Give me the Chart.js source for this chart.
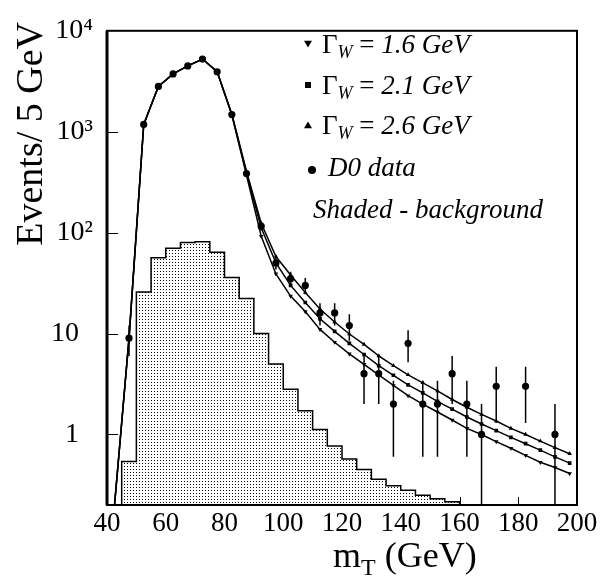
<!DOCTYPE html>
<html>
<head>
<meta charset="utf-8">
<script src="https://cdn.jsdelivr.net/npm/chart.js@4.4.1/dist/chart.umd.min.js"></script>
<style>
  html, body { margin: 0; padding: 0; background: #fff; }
</style>
</head>
<body>
<canvas id="chart" width="602" height="581"></canvas>
<script>
// W boson transverse mass — log-scale spectrum with width hypotheses
// Chart.js 4.x

// --- Data ---
const binCenters = [42.5, 47.5, 52.5, 57.5, 62.5, 67.5, 72.5, 77.5, 82.5, 87.5,
    92.5, 97.5, 102.5, 107.5, 112.5, 117.5, 122.5, 127.5, 132.5, 137.5,
    142.5, 147.5, 152.5, 157.5, 162.5, 167.5, 172.5, 177.5, 182.5, 187.5,
    192.5, 197.5];

// model curves for three W widths
const width16 = [0.19, 9, 1180, 2810, 3740, 4490, 5250, 3930, 1460, 370,
    92, 39, 23.5, 16.5, 11.0, 8.2, 6.3, 4.96, 3.9, 3.06,
    2.42, 2.0, 1.67, 1.39, 1.15, 1.0, 0.85, 0.73, 0.62, 0.53,
    0.47, 0.41];
const width21 = [0.19, 9, 1180, 2810, 3740, 4490, 5250, 3930, 1480, 390,
    112, 50, 30, 20.3, 14.0, 10.5, 8.0, 6.2, 4.8, 3.86,
    3.1, 2.58, 2.13, 1.78, 1.49, 1.27, 1.09, 0.935, 0.81, 0.70,
    0.60, 0.52];
const width26 = [0.19, 9, 1180, 2810, 3740, 4490, 5250, 3930, 1500, 405,
    124, 58, 38, 25.5, 17.5, 13.0, 9.9, 7.8, 6.0, 4.8,
    3.9, 3.25, 2.7, 2.22, 1.86, 1.58, 1.36, 1.15, 1.0, 0.86,
    0.74, 0.645];
const widthLabels = ['1.6', '2.1', '2.6'];

// D0 data points with statistical errors
const dataX = [47.5, 52.5, 57.5, 62.5, 67.5, 72.5, 77.5, 82.5, 87.5, 92.5,
    97.5, 102.5, 107.5, 112.5, 117.5, 122.5, 127.5, 132.5, 137.5, 142.5,
    147.5, 152.5, 157.5, 162.5, 167.5, 172.5, 182.5, 192.5];
const dataY = [9, 1180, 2810, 3740, 4490, 5250, 3930, 1480, 385, 116,
    50, 35, 30, 16, 16, 12, 4, 4, 2, 8,
    2, 2, 4, 2, 1, 3, 3, 1];
const dataErr = [3, 34, 53, 61, 67, 72, 63, 38, 20, 11,
    7, 6, 5.5, 4, 4, 3.5, 2, 2, 1.4, 2.8,
    1.4, 1.4, 2, 1.4, 1, 1.7, 1.7, 1];

// background histogram (lower bin edges, 5 GeV bins)
const bkgLowEdges = [45, 50, 55, 60, 65, 70, 75, 80, 85, 90, 95, 100,
    105, 110, 115, 120, 125, 130, 135, 140, 145, 150, 155];
const bkgValues = [0.54, 25.8, 56.4, 70, 80, 81, 64, 36, 22.3, 10.0, 5.0, 2.8,
    1.72, 1.12, 0.77, 0.57, 0.45, 0.36, 0.31, 0.28, 0.25, 0.23, 0.215];

// axis ticks
const yTickValues = [1, 10, 100, 1000, 10000];
const yTickLabels = ['1\u2002', '10\u2002', '10\u00b2', '10\u00b3', '10\u2074'];
const xTickValues = [40, 60, 80, 100, 120, 140, 160, 180, 200];

const BIN = 5;
const Y_MIN = 0.2;
const Y_MAX = 10000;
const SERIF = '"Liberation Serif", "Times New Roman", serif';

// --- Build point lists ---
const xy = (xs, ys) => xs.map((x, i) => ({ x: x, y: ys[i] }));

// stepped outline: one point per lower edge, closed down to the axis at both ends
const bkgPoints = [{ x: bkgLowEdges[0], y: Y_MIN }];
bkgLowEdges.forEach((lo, i) => bkgPoints.push({ x: lo, y: bkgValues[i] }));
const lastEdge = bkgLowEdges[bkgLowEdges.length - 1] + BIN;
bkgPoints.push({ x: lastEdge, y: bkgValues[bkgValues.length - 1] });
bkgPoints.push({ x: lastEdge, y: Y_MIN });

function isDecade(v) {
    const l = Math.log10(v);
    return Math.abs(l - Math.round(l)) < 1e-6;
}

// --- Dot shading for the background ---
const canvas = document.getElementById('chart');
const ctx = canvas.getContext('2d');
function dotPattern() {
    const c = document.createElement('canvas');
    c.width = 3; c.height = 3;
    const g = c.getContext('2d');
    g.fillStyle = '#fff';
    g.fillRect(0, 0, 3, 3);
    g.fillStyle = '#000';
    g.fillRect(1, 1, 1, 1);
    return ctx.createPattern(c, 'repeat');
}

// --- Plugin: inner ticks and frame ---
const framePlugin = {
    id: 'frame',
    beforeDatasetsDraw(chart) {
        const c = chart.ctx, a = chart.chartArea;
        const xs = chart.scales.x, ys = chart.scales.y;
        c.save();
        c.strokeStyle = '#000';
        c.lineWidth = 1;
        ys.ticks.forEach(t => {
            if (t.value <= Y_MIN || t.value >= Y_MAX) return;
            const py = Math.round(ys.getPixelForValue(t.value)) + 0.5;
            c.beginPath();
            c.moveTo(a.left, py);
            c.lineTo(a.left + (isDecade(t.value) ? 11 : 7), py);
            c.stroke();
        });
        xs.ticks.forEach(t => {
            if (t.value <= xs.min || t.value >= xs.max) return;
            const px = Math.round(xs.getPixelForValue(t.value)) + 0.5;
            c.beginPath();
            c.moveTo(px, a.bottom);
            c.lineTo(px, a.bottom - 8);
            c.stroke();
        });
        c.restore();
    },
    afterDatasetsDraw(chart) {
        const c = chart.ctx, a = chart.chartArea;
        c.save();
        c.strokeStyle = '#000';
        c.lineWidth = 2;
        c.strokeRect(a.left, a.top, a.right - a.left, a.bottom - a.top);
        c.lineWidth = 3;
        c.beginPath();
        c.moveTo(a.left, a.top);
        c.lineTo(a.left, a.bottom);
        c.stroke();
        c.restore();
    }
};

// --- Plugin: error bars on the data points ---
const errorBarPlugin = {
    id: 'errorBars',
    afterDatasetsDraw(chart) {
        const c = chart.ctx, a = chart.chartArea;
        const xs = chart.scales.x, ys = chart.scales.y;
        c.save();
        c.beginPath();
        c.rect(a.left, a.top, a.right - a.left, a.bottom - a.top);
        c.clip();
        c.strokeStyle = '#000';
        c.lineWidth = 1.5;
        dataX.forEach((x, i) => {
            const lo = dataY[i] - dataErr[i];
            const hi = dataY[i] + dataErr[i];
            const px = xs.getPixelForValue(x);
            const pLo = lo > 0 ? ys.getPixelForValue(lo) : a.bottom;
            c.beginPath();
            c.moveTo(px, pLo);
            c.lineTo(px, ys.getPixelForValue(hi));
            c.stroke();
        });
        c.restore();
    }
};

// --- Plugin: axis titles and legend text ---
function marker(c, style, x, y, r) {
    c.beginPath();
    if (style === 'down') {
        c.moveTo(x - r, y - r * 0.8);
        c.lineTo(x + r, y - r * 0.8);
        c.lineTo(x, y + r * 0.9);
    } else if (style === 'up') {
        c.moveTo(x - r, y + r * 0.8);
        c.lineTo(x + r, y + r * 0.8);
        c.lineTo(x, y - r * 0.9);
    } else if (style === 'rect') {
        c.rect(x - r, y - r, 2 * r, 2 * r);
    } else {
        c.arc(x, y, r, 0, Math.PI * 2);
    }
    c.closePath();
    c.fill();
}

const textPlugin = {
    id: 'texts',
    afterDraw(chart) {
        const c = chart.ctx;
        c.save();
        c.fillStyle = '#000';
        c.textBaseline = 'alphabetic';

        // y axis title
        c.save();
        c.translate(42, 22);
        c.rotate(-Math.PI / 2);
        c.textAlign = 'right';
        c.font = '38px ' + SERIF;
        c.fillText('Events/ 5 GeV', 0, 0);
        c.restore();

        // x axis title
        c.textAlign = 'left';
        let x = 333;
        c.font = '36px ' + SERIF;
        c.fillText('m', x, 567);
        x += c.measureText('m').width;
        c.font = '24px ' + SERIF;
        c.fillText('T', x, 575);
        x += c.measureText('T').width;
        c.font = '36px ' + SERIF;
        c.fillText(' (GeV)', x, 567);

        // legend
        const styles = ['down', 'rect', 'up'];
        const rowBase = [53, 94, 134];
        widthLabels.forEach((w, i) => {
            const base = rowBase[i];
            marker(c, styles[i], 308, base - 9, styles[i] === 'rect' ? 3 : 4);
            let tx = 322;
            c.font = '27px ' + SERIF;
            c.fillText('\u0393', tx, base);
            tx += c.measureText('\u0393').width;
            c.font = 'italic 18px ' + SERIF;
            c.fillText('W', tx, base + 5);
            tx += c.measureText('W').width;
            c.font = '27px ' + SERIF;
            c.fillText(' = ', tx, base);
            tx += c.measureText(' = ').width;
            c.font = 'italic 27px ' + SERIF;
            c.fillText(w + ' GeV', tx, base);
        });
        marker(c, 'dot', 312, 170, 4);
        c.font = 'italic 27px ' + SERIF;
        c.fillText('D0 data', 328, 176);
        c.fillText('Shaded - background', 313, 218);
        c.restore();
    }
};

// --- Chart ---
const chart = new Chart(ctx, {
    type: 'line',
    data: {
        datasets: [
            {
                label: 'D0 data',
                data: xy(dataX, dataY),
                showLine: false,
                pointStyle: 'circle',
                pointRadius: 3.6,
                pointBackgroundColor: '#000',
                pointBorderColor: '#000',
                pointBorderWidth: 0,
                order: 1
            },
            {
                label: 'Gamma_W = 1.6 GeV',
                data: xy(binCenters, width16),
                borderColor: '#000',
                borderWidth: 1.5,
                pointStyle: 'triangle',
                rotation: 180,
                pointRadius: 2.6,
                pointBackgroundColor: '#000',
                pointBorderWidth: 0,
                tension: 0,
                order: 2
            },
            {
                label: 'Gamma_W = 2.1 GeV',
                data: xy(binCenters, width21),
                borderColor: '#000',
                borderWidth: 1.5,
                pointStyle: 'rect',
                pointRadius: 2.6,
                pointBackgroundColor: '#000',
                pointBorderWidth: 0,
                tension: 0,
                order: 2
            },
            {
                label: 'Gamma_W = 2.6 GeV',
                data: xy(binCenters, width26),
                borderColor: '#000',
                borderWidth: 1.5,
                pointStyle: 'triangle',
                pointRadius: 2.6,
                pointBackgroundColor: '#000',
                pointBorderWidth: 0,
                tension: 0,
                order: 2
            },
            {
                label: 'Background',
                data: bkgPoints,
                stepped: 'before',
                fill: 'start',
                backgroundColor: dotPattern(),
                borderColor: '#000',
                borderWidth: 1.5,
                pointRadius: 0,
                order: 3
            }
        ]
    },
    options: {
        responsive: false,
        animation: false,
        events: [],
        layout: { padding: { top: 17, right: 25, left: 0, bottom: 0 } },
        plugins: {
            legend: { display: false },
            tooltip: { enabled: false }
        },
        scales: {
            x: {
                type: 'linear',
                min: 40,
                max: 200,
                grid: { display: false, drawTicks: false },
                border: { display: false },
                ticks: {
                    stepSize: 5,
                    autoSkip: false,
                    maxRotation: 0,
                    padding: 3,
                    color: '#000',
                    font: { family: SERIF, size: 27 },
                    callback: v => xTickValues.includes(v) ? String(v) : null
                },
                afterFit: s => { s.height = 76; }
            },
            y: {
                type: 'logarithmic',
                min: Y_MIN,
                max: Y_MAX,
                grid: { display: false, drawTicks: false },
                border: { display: false },
                ticks: {
                    autoSkip: false,
                    padding: 14,
                    color: '#000',
                    font: { family: SERIF, size: 28 },
                    callback: v => {
                        const i = yTickValues.findIndex(t => Math.abs(t - v) < 1e-6 * t);
                        return i >= 0 ? yTickLabels[i] : null;
                    }
                },
                afterFit: s => { s.width = 107; }
            }
        }
    },
    plugins: [framePlugin, errorBarPlugin, textPlugin]
});
</script>
</body>
</html>
